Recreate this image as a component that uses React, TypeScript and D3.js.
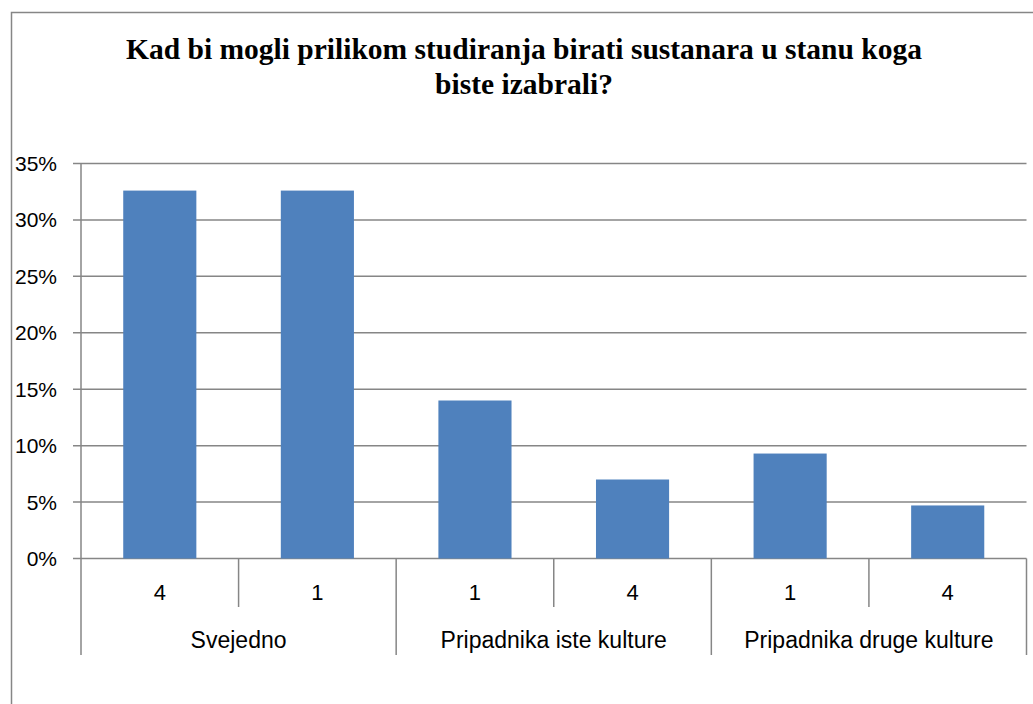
import React, { useEffect, useRef } from 'react';
import * as d3 from 'd3';

// chart data
const titleLines = ['Kad bi mogli prilikom studiranja birati sustanara u stanu koga', 'biste izabrali?'];
const groups = ['Svejedno', 'Pripadnika iste kulture', 'Pripadnika druge kulture'];
const subLabels = ['4', '1', '1', '4', '1', '4'];
const groupOf = [0, 0, 1, 1, 2, 2];
const values = [0.326, 0.326, 0.14, 0.07, 0.093, 0.047];
const yTicks = [0, 0.05, 0.1, 0.15, 0.2, 0.25, 0.3, 0.35];

const W = 1033;
const H = 704;

export default function App() {
  const ref = useRef<SVGSVGElement>(null);

  useEffect(() => {
    const svg = d3.select(ref.current);
    svg.selectAll('*').remove();

    const left = 81, right = 1026.5, top = 163.5, bottom = 558.5;
    const grey = '#868686';
    const axisFont = '"Liberation Sans", Arial, sans-serif';

    // outer frame (right and bottom edges fall outside the picture)
    svg.append('rect')
      .attr('x', 11.5).attr('y', 12.5)
      .attr('width', 1040).attr('height', 720)
      .attr('fill', 'white').attr('stroke', grey).attr('stroke-width', 1.5);

    const title = svg.append('text')
      .attr('text-anchor', 'middle')
      .attr('font-family', '"Liberation Serif", "Times New Roman", serif')
      .attr('font-weight', 'bold')
      .attr('font-size', 29.5);
    titleLines.forEach((t, i) => {
      title.append('tspan').attr('x', 524).attr('y', 59 + i * 35).text(t);
    });

    const idx = subLabels.map((_, i) => i);
    const x = d3.scaleBand<number>().domain(idx).range([left, right]).paddingInner(0.536).paddingOuter(0.268);
    const xb = d3.scaleBand<number>().domain(idx).range([left, right]);
    const y = d3.scaleLinear().domain([0, 0.35]).range([bottom, top]);

    // gridlines + ticks
    svg.append('g').selectAll('line').data(yTicks).enter().append('line')
      .attr('x1', left - 8).attr('x2', right)
      .attr('y1', d => y(d)).attr('y2', d => y(d))
      .attr('stroke', grey).attr('stroke-width', 1.5);

    svg.append('g').selectAll('text').data(yTicks).enter().append('text')
      .attr('x', 57).attr('y', d => y(d))
      .attr('dy', '0.36em')
      .attr('text-anchor', 'end')
      .attr('font-family', axisFont).attr('font-size', 21)
      .text(d => d3.format('.0%')(d));

    // y axis line
    svg.append('line')
      .attr('x1', left).attr('x2', left).attr('y1', top).attr('y2', bottom)
      .attr('stroke', grey).attr('stroke-width', 1.5);

    // bars
    svg.append('g').selectAll('rect').data(values).enter().append('rect')
      .attr('x', (_, i) => x(i)!)
      .attr('width', x.bandwidth())
      .attr('y', d => y(d))
      .attr('height', d => bottom - y(d))
      .attr('fill', '#4F81BD');

    // category axis separators
    const sep = svg.append('g').attr('stroke', grey).attr('stroke-width', 1.5);
    for (let i = 0; i <= subLabels.length; i++) {
      const xx = i < subLabels.length ? xb(i)! : right;
      const isGroupEdge = i === 0 || i === subLabels.length || groupOf[i] !== groupOf[i - 1];
      sep.append('line')
        .attr('x1', xx).attr('x2', xx)
        .attr('y1', bottom).attr('y2', isGroupEdge ? 655 : 607);
    }

    svg.append('g').selectAll('text').data(subLabels).enter().append('text')
      .attr('x', (_, i) => xb(i)! + xb.bandwidth() / 2)
      .attr('y', 592).attr('dy', '0.36em')
      .attr('text-anchor', 'middle')
      .attr('font-family', axisFont).attr('font-size', 22)
      .text(d => d);

    svg.append('g').selectAll('text').data(groups).enter().append('text')
      .attr('x', (_, g) => {
        const members = idx.filter(i => groupOf[i] === g);
        return (xb(members[0])! + xb(members[members.length - 1])! + xb.bandwidth()) / 2;
      })
      .attr('y', 640).attr('dy', '0.36em')
      .attr('text-anchor', 'middle')
      .attr('font-family', axisFont).attr('font-size', 23)
      .text(d => d);
  }, []);

  return (
    <svg ref={ref} width={W} height={H}
      style={{ position: 'absolute', left: 0, top: 0, background: 'white' }} />
  );
}
